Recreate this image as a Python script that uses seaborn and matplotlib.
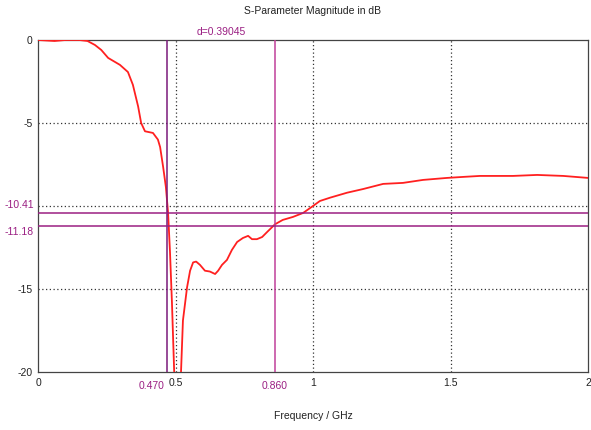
import seaborn as sns
import matplotlib.pyplot as plt
import pandas as pd

# S-parameter trace
freq_ghz = [0.0, 0.06, 0.1, 0.15, 0.18, 0.207, 0.23, 0.255, 0.298, 0.327, 0.345, 0.364,
            0.375, 0.389, 0.418, 0.436, 0.444, 0.455, 0.465, 0.473, 0.48, 0.487, 0.495,
            0.505, 0.515, 0.52, 0.527, 0.542, 0.553, 0.564, 0.575, 0.589, 0.607, 0.625,
            0.644, 0.655, 0.669, 0.687, 0.705, 0.724, 0.745, 0.764, 0.778, 0.796, 0.815,
            0.833, 0.862, 0.89, 0.927, 0.964, 1.0, 1.025, 1.062, 1.124, 1.182, 1.255,
            1.327, 1.4, 1.487, 1.545, 1.607, 1.727, 1.815, 1.91, 2.0]
mag_db = [0.0, -0.06, 0.0, 0.0, -0.06, -0.3, -0.6, -1.08, -1.5, -1.93, -2.7, -4.0,
          -5.0, -5.5, -5.6, -6.0, -6.45, -7.65, -8.86, -10.42, -12.8, -15.8, -19.9,
          -23.0, -22.0, -20.0, -16.9, -14.9, -13.9, -13.4, -13.35, -13.55, -13.9, -13.95,
          -14.1, -13.9, -13.55, -13.25, -12.65, -12.17, -11.93, -11.8, -12.0, -12.0, -11.87,
          -11.57, -11.1, -10.84, -10.66, -10.42, -10.0, -9.7, -9.5, -9.2, -8.98, -8.67,
          -8.61, -8.43, -8.31, -8.25, -8.19, -8.19, -8.13, -8.19, -8.31]

# markers
marker_x = [0.470, 0.860]
marker_y = [-10.41, -11.18]
delta_label = "d=0.39045"

x_ticks = [0, 0.5, 1, 1.5, 2]
x_tick_labels = ["0", "0.5", "1", "1.5", "2"]
y_ticks = [0, -5, -15, -20]

df = pd.DataFrame({"Frequency": freq_ghz, "Magnitude": mag_db})

sns.set_style("white")
plt.rcParams["font.family"] = ["Liberation Sans", "DejaVu Sans"]
plt.rcParams["axes.unicode_minus"] = False

fig = plt.figure(figsize=(5.91, 4.30), dpi=100)
ax = fig.add_axes([0.0643, 0.135, 0.9307, 0.772])

mcol = "#9B1F83"
# dotted grid
for gx in [0.5, 1, 1.5]:
    ax.axvline(gx, color="#333333", linestyle=(0, (1, 2)), linewidth=0.9, zorder=1)
for gy in [-5, -10, -15]:
    ax.axhline(gy, color="#333333", linestyle=(0, (1, 2)), linewidth=0.9, zorder=1)

sns.lineplot(data=df, x="Frequency", y="Magnitude", color="#FF2020", linewidth=1.3,
             ax=ax, zorder=3)

ax.axvline(marker_x[0], color="#7A1A7A", linewidth=1.1, zorder=4)
ax.axvline(marker_x[1], color="#C0409A", linewidth=1.1, zorder=4)
for my in marker_y:
    ax.axhline(my, color=mcol, linewidth=1.1, zorder=4)

ax.set_xlim(0, 2)
ax.set_ylim(-20, 0)
ax.set_xticks(x_ticks)
ax.set_xticklabels(x_tick_labels)
ax.set_yticks(y_ticks)
ax.tick_params(labelsize=7.5, length=0, pad=4, colors="#222222")
for s in ax.spines.values():
    s.set_color("#444444")
    s.set_linewidth(0.9)

# marker labels
ax.text(marker_x[0] - 0.01, -20.55, f"{marker_x[0]:.3f}", color=mcol, fontsize=7.5,
        ha="right", va="top")
ax.text(marker_x[1], -20.55, f"{marker_x[1]:.3f}", color=mcol, fontsize=7.5,
        ha="center", va="top")
ax.text(-0.015, -9.94, f"{marker_y[0]:.2f}", color=mcol, fontsize=7.5, ha="right", va="center")
ax.text(-0.015, -11.57, f"{marker_y[1]:.2f}", color=mcol, fontsize=7.5, ha="right", va="center")
ax.text(0.665, 0.2, delta_label, color=mcol, fontsize=7.5, ha="center", va="bottom")

ax.set_xlabel("Frequency / GHz", fontsize=7.5, labelpad=17, color="#222222")
ax.set_ylabel("")
fig.text(0.528, 0.975, "S-Parameter Magnitude in dB", fontsize=7.5, ha="center",
         va="center", color="#222222")

fig.savefig("out.png", dpi=100)
